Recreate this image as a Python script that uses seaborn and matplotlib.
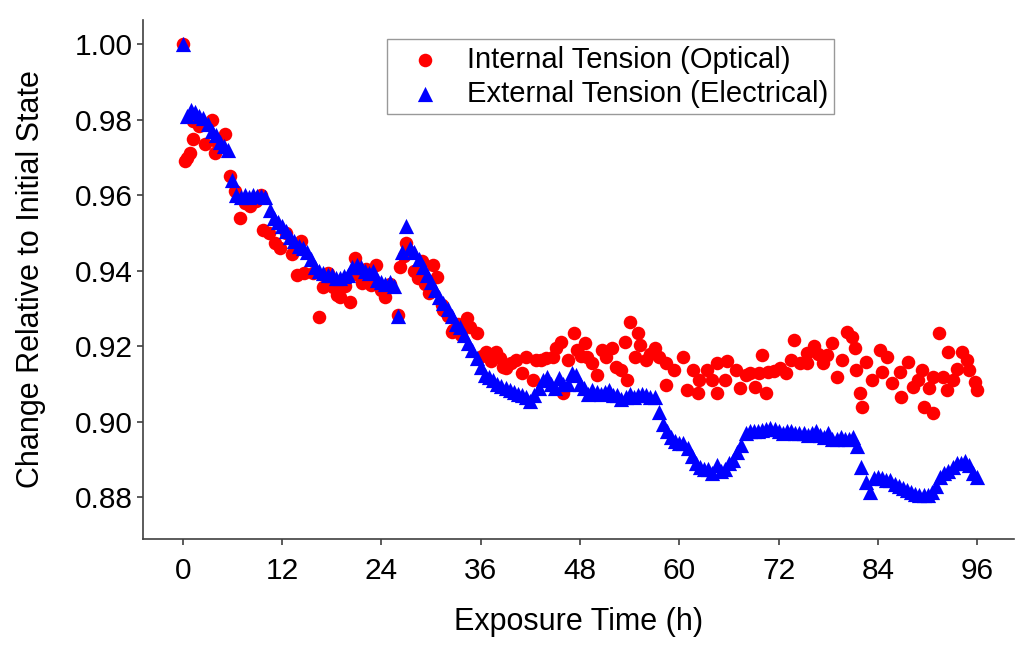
import numpy as np
import pandas as pd
import matplotlib
matplotlib.use("Agg")
import matplotlib.pyplot as plt
import seaborn as sns

# ---- data ----
ext_time = [i * 0.5 for i in range(193)]
ext_value = [
    1.000, 0.981, 0.9825, 0.982, 0.981, 0.9805, 0.979, 0.977, 0.976, 0.974,
    0.973, 0.972, 0.964, 0.960, 0.9595, 0.960, 0.9595, 0.960, 0.9598, 0.9598,
    0.9595, 0.956, 0.954, 0.953, 0.952, 0.9505, 0.949, 0.948, 0.9465, 0.946,
    0.945, 0.943, 0.941, 0.940, 0.9395, 0.939, 0.939, 0.938, 0.938, 0.9385,
    0.939, 0.941, 0.9415, 0.941, 0.940, 0.9395, 0.940, 0.9375, 0.937, 0.9365,
    0.937, 0.936, 0.928, 0.945, 0.952, 0.946, 0.945, 0.943, 0.941, 0.939,
    0.937, 0.935, 0.933, 0.9315, 0.930, 0.928, 0.926, 0.925, 0.923, 0.921,
    0.919, 0.917, 0.9145, 0.9125, 0.912, 0.911, 0.910, 0.9095, 0.909, 0.9085,
    0.908, 0.9075, 0.907, 0.9065, 0.9055, 0.907, 0.909, 0.911, 0.912, 0.910,
    0.909, 0.9115, 0.910, 0.910, 0.913, 0.9125, 0.910, 0.909, 0.9075, 0.9085,
    0.908, 0.9075, 0.908, 0.9085, 0.907, 0.907, 0.906, 0.9065, 0.9075, 0.9065,
    0.907, 0.9075, 0.907, 0.9065, 0.9065, 0.9025, 0.8995, 0.8975, 0.896, 0.895,
    0.8945, 0.8945, 0.893, 0.891, 0.889, 0.888, 0.8875, 0.8875, 0.8865, 0.8885,
    0.887, 0.8875, 0.889, 0.890, 0.892, 0.894, 0.897, 0.8975, 0.8975, 0.8975,
    0.8978, 0.898, 0.8985, 0.898, 0.8975, 0.897, 0.8975, 0.8975, 0.897, 0.897,
    0.897, 0.8965, 0.897, 0.8975, 0.8965, 0.896, 0.897, 0.8955, 0.8955, 0.896,
    0.8955, 0.8955, 0.896, 0.8935, 0.888, 0.884, 0.8815, 0.885, 0.8855, 0.885,
    0.8845, 0.8845, 0.8835, 0.883, 0.8825, 0.882, 0.8815, 0.881, 0.8805, 0.8805,
    0.8805, 0.8815, 0.883, 0.8855, 0.8865, 0.887, 0.888, 0.889, 0.889, 0.8895,
    0.8885, 0.8865, 0.8855,
]

int_time = [
    0.0, 0.3, 0.5, 0.85, 1.2, 1.2, 2.0, 2.7, 3.5, 3.9, 4.3, 5.1, 5.7, 6.3, 6.9,
    7.5, 8.1, 8.8, 9.5, 9.7, 10.4, 11.1, 11.7, 12.5, 13.2, 13.8, 14.3, 14.7,
    15.7, 16.5, 16.9, 17.5, 18.1, 18.6, 19.0, 19.6, 20.2, 20.8, 21.2, 21.7,
    22.2, 22.8, 23.4, 24.0, 24.4, 25.0, 26.0, 26.2, 26.7, 27.0, 27.5, 28.0,
    28.4, 28.9, 29.3, 29.8, 30.2, 30.7, 31.3, 31.4, 32.0, 32.5, 32.6, 33.2,
    33.6, 34.3, 34.7, 35.6, 36.1, 36.7, 37.3, 37.9, 38.3, 38.7, 39.1, 39.7,
    40.3, 41.0, 41.5, 42.3, 42.7, 43.3, 43.9, 44.7, 45.1, 45.7, 45.9, 46.5,
    47.3, 47.6, 48.1, 48.6, 48.8, 49.4, 50.0, 50.6, 51.2, 51.9, 52.4, 53.0,
    53.4, 53.7, 54.0, 54.6, 55.0, 55.2, 56.0, 56.5, 57.0, 57.6, 58.4, 58.4,
    59.4, 60.4, 60.9, 61.6, 62.2, 62.4, 63.3, 64.0, 64.5, 64.6, 65.5, 65.8,
    66.9, 67.3, 68.0, 68.5, 69.1, 69.6, 70.0, 70.5, 70.7, 71.4, 72.1, 72.9,
    73.5, 73.9, 74.6, 75.4, 75.4, 76.3, 76.8, 77.3, 77.8, 78.5, 79.0, 79.7,
    80.3, 80.8, 81.2, 81.4, 81.8, 82.1, 82.6, 83.3, 84.2, 84.5, 85.1, 85.7,
    86.6, 86.8, 87.6, 88.2, 88.8, 89.3, 89.6, 90.1, 90.6, 90.6, 91.4, 91.8,
    92.3, 92.4, 93.0, 93.6, 94.2, 94.7, 95.0, 95.7, 96.0,
]
int_value = [
    1.000, 0.969, 0.970, 0.9713, 0.975, 0.9797, 0.9784, 0.9736, 0.980, 0.9713,
    0.9735, 0.9763, 0.9652, 0.9612, 0.9539, 0.958, 0.9573, 0.9585, 0.960, 0.9507,
    0.950, 0.9475, 0.946, 0.950, 0.9445, 0.9388, 0.948, 0.9393, 0.9393, 0.9277,
    0.9357, 0.9395, 0.9357, 0.9335, 0.933, 0.936, 0.9317, 0.9433, 0.939, 0.9367,
    0.9405, 0.9362, 0.9415, 0.935, 0.933, 0.9365, 0.9283, 0.941, 0.944, 0.9473,
    0.945, 0.940, 0.938, 0.9425, 0.9365, 0.934, 0.9415, 0.9383, 0.931, 0.9296,
    0.928, 0.9238, 0.9243, 0.926, 0.923, 0.9275, 0.925, 0.9235, 0.9175, 0.9185,
    0.916, 0.9185, 0.917, 0.9145, 0.9143, 0.9155, 0.9164, 0.913, 0.9172, 0.9111,
    0.9164, 0.9165, 0.917, 0.9172, 0.9196, 0.9212, 0.9077, 0.9164, 0.9235, 0.919,
    0.9175, 0.9209, 0.9172, 0.9156, 0.9124, 0.919, 0.9172, 0.9196, 0.9146, 0.9138,
    0.9212, 0.9111, 0.9264, 0.9172, 0.9235, 0.9204, 0.9164, 0.918, 0.9196, 0.9172,
    0.9156, 0.9098, 0.9138, 0.9172, 0.9085, 0.9138, 0.9077, 0.9111, 0.9138, 0.9111,
    0.9156, 0.9077, 0.9111, 0.916, 0.9138, 0.909, 0.9125, 0.913, 0.9093, 0.913,
    0.9177, 0.9077, 0.9132, 0.9135, 0.9143, 0.913, 0.9164, 0.9217, 0.9155, 0.9156,
    0.9182, 0.920, 0.918, 0.9156, 0.9177, 0.9209, 0.912, 0.9164, 0.9238, 0.9225,
    0.9196, 0.9138, 0.9077, 0.904, 0.9159, 0.9111, 0.919, 0.9132, 0.9172, 0.9103,
    0.9132, 0.9066, 0.9159, 0.9093, 0.911, 0.9138, 0.904, 0.909, 0.9024, 0.912,
    0.9235, 0.912, 0.9085, 0.9185, 0.9111, 0.914, 0.9185, 0.9164, 0.9138, 0.9106,
    0.9085,
]

x_ticks = [0, 12, 24, 36, 48, 60, 72, 84, 96]
y_ticks = [0.88, 0.90, 0.92, 0.94, 0.96, 0.98, 1.00]
label_int = "Internal Tension (Optical)"
label_ext = "External Tension (Electrical)"

df_int = pd.DataFrame({"time": int_time, "value": int_value})
df_ext = pd.DataFrame({"time": ext_time, "value": ext_value})

sns.set_theme(style="ticks")
plt.rcParams["font.family"] = ["Liberation Sans", "DejaVu Sans"]
plt.rcParams["text.color"] = "black"
plt.rcParams["axes.labelcolor"] = "black"

fig = plt.figure(figsize=(10.24, 6.58), dpi=100)
ax = fig.add_axes([0.1396, 0.181, 0.8504, 0.789])

sns.scatterplot(data=df_int, x="time", y="value", ax=ax, color="#ff0000",
                marker="o", s=95, linewidth=0, label=label_int, zorder=2)
sns.scatterplot(data=df_ext, x="time", y="value", ax=ax, color="#0000ff",
                marker="^", s=120, linewidth=0, label=label_ext, zorder=3)

ax.set_xlim(-4.8, 100.4)
ax.set_ylim(0.869, 1.0065)
ax.set_xticks(x_ticks)
ax.set_xticklabels([str(t) for t in x_ticks])
ax.set_yticks(y_ticks)
ax.set_yticklabels([f"{t:.2f}" for t in y_ticks])

for side in ["top", "right"]:
    ax.spines[side].set_visible(False)
for side in ["left", "bottom"]:
    ax.spines[side].set_color("#404040")
    ax.spines[side].set_linewidth(1.2)
ax.tick_params(axis="both", labelsize=21.5, colors="#404040", labelcolor="black",
               length=4, width=1.2)
ax.tick_params(axis="y", pad=3)
ax.tick_params(axis="x", pad=9)

ax.set_xlabel("Exposure Time (h)", fontsize=22, labelpad=16)
ax.set_ylabel("Change Relative to Initial State", fontsize=22, labelpad=21)

leg = ax.legend(loc="upper left", bbox_to_anchor=(0.280, 0.962), fontsize=21,
                frameon=True, fancybox=False, edgecolor="#808080",
                borderpad=0.22, handletextpad=0.32, labelspacing=0.2,
                borderaxespad=0, markerscale=1.0, handlelength=2.2)
leg.get_frame().set_linewidth(1.0)
for t in leg.get_texts():
    t.set_color("black")

fig.savefig("out.png", dpi=100)
